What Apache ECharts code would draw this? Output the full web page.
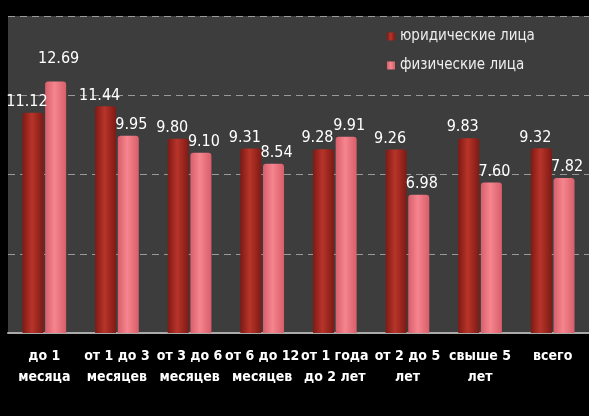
<!DOCTYPE html>
<html>
<head>
<meta charset="utf-8">
<script src="https://cdn.jsdelivr.net/npm/echarts@6/dist/echarts.min.js"></script>
<style>
html,body{margin:0;padding:0;background:#000;}
#main{width:589px;height:416px;}
</style>
</head>
<body>
<div id="main"></div>
<script>
var categories = ['до 1\nмесяца', 'от 1 до 3\nмесяцев', 'от 3 до 6\nмесяцев', 'от 6 до 12\nмесяцев', 'от 1 года\nдо 2 лет', 'от 2 до 5\nлет', 'свыше 5\nлет', 'всего'];
var legalValues = [11.12, 11.44, 9.80, 9.31, 9.28, 9.26, 9.83, 9.32];
var personValues = [12.69, 9.95, 9.10, 8.54, 9.91, 6.98, 7.60, 7.82];
var seriesNames = ['юридические лица', 'физические лица'];

function cyl(edge, mid) {
	return new echarts.graphic.LinearGradient(0, 0, 1, 0, [
		{offset: 0, color: edge},
		{offset: 0.45, color: mid},
		{offset: 1, color: edge}
	]);
}

function lbl(dx) {
	return {
		show: true, position: 'top', distance: 3, offset: [dx, 0],
		color: '#fff', fontSize: 16, fontFamily: 'DejaVu Sans Condensed',
		formatter: function (p) { return p.value.toFixed(2); }
	};
}

// первая подпись в оригинале поднята выше
var personData = personValues.map(function (v, i) {
	return i === 0 ? {value: v, label: {offset: [3, -12]}} : v;
});

var myChart = echarts.init(document.getElementById('main'));
var option = {
	backgroundColor: '#000',
	animation: false,
	grid: {
		left: 8, top: 16, bottom: 83, width: 586,
		show: true, backgroundColor: '#3d3d3d', borderWidth: 0
	},
	legend: {
		orient: 'vertical',
		left: 382, top: 24,
		itemWidth: 8, itemHeight: 8, itemGap: 14,
		icon: 'rect',
		textStyle: {color: '#eee', fontSize: 15, fontFamily: 'DejaVu Sans Condensed'},
		data: seriesNames
	},
	xAxis: {
		type: 'category',
		data: categories,
		axisLine: {lineStyle: {color: '#aaa', width: 2}},
		axisTick: {length: 6, lineStyle: {color: '#aaa'}},
		axisLabel: {
			color: '#fff', fontSize: 14, lineHeight: 21, margin: 13,
			fontFamily: 'DejaVu Sans Condensed', fontWeight: 'bold', interval: 0
		}
	},
	yAxis: {
		type: 'value',
		min: 0, max: 16, interval: 4,
		axisLabel: {show: false},
		axisLine: {show: false},
		axisTick: {show: false},
		splitLine: {lineStyle: {color: '#999', type: [7, 5], width: 1}}
	},
	series: [{
		name: seriesNames[0],
		type: 'bar',
		data: legalValues,
		barWidth: 21,
		barGap: '8%',
		itemStyle: {color: cyl('#7e1a14', '#b8342a'), borderRadius: [3, 3, 0, 0]},
		label: lbl(-6)
	}, {
		name: seriesNames[1],
		type: 'bar',
		data: personData,
		barWidth: 21,
		itemStyle: {color: cyl('#d85e6a', '#f5858e'), borderRadius: [3, 3, 0, 0]},
		label: lbl(3)
	}]
};
myChart.setOption(option);
</script>
</body>
</html>
